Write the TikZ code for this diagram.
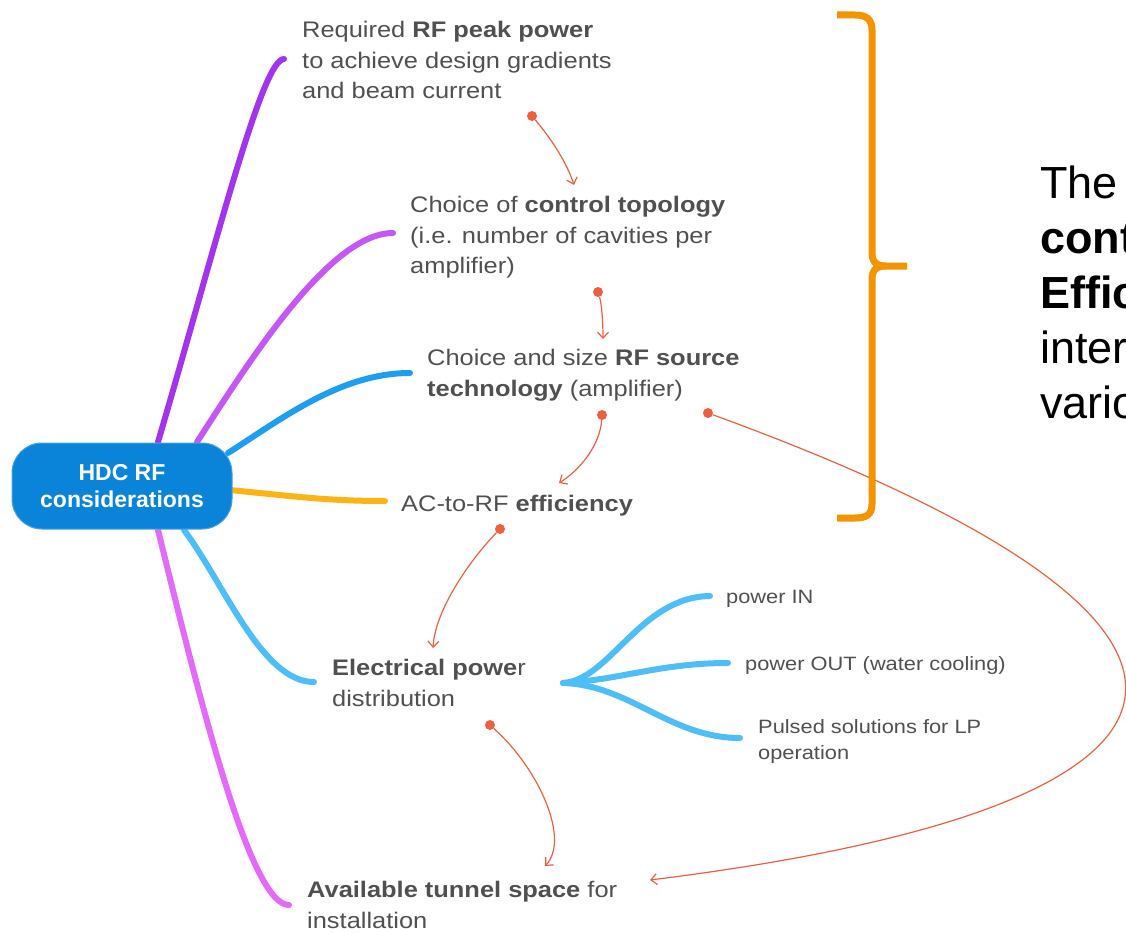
\documentclass[tikz,border=0pt]{standalone}
\usepackage{fontspec}
\setmainfont{Liberation Sans}
\newfontfamily\mapfont[FakeStretch=1.13]{Liberation Sans}
\usetikzlibrary{arrows.meta}

\definecolor{hubblue}{HTML}{0A84D9}
\definecolor{txtgray}{HTML}{505050}
\definecolor{brPurple}{HTML}{A334EE}
\definecolor{brViolet}{HTML}{C657F7}
\definecolor{brBlue}{HTML}{1E9EF2}
\definecolor{brAmber}{HTML}{FBB315}
\definecolor{brSky}{HTML}{4EBEF9}
\definecolor{brPink}{HTML}{E46AF8}
\definecolor{linkred}{HTML}{EE5F3F}
\definecolor{braceorange}{HTML}{F39400}

\begin{document}
\begin{tikzpicture}[x=1pt,y=-1pt,
  branch/.style={line width=6pt, line cap=round},
  link/.style={draw=linkred, line width=1.2pt, -{Straight Barb[length=6pt,width=11pt]}},
  dot/.style={circle, fill=linkred, inner sep=0pt, minimum size=10pt},
  lbl/.style={anchor=north west, inner sep=0pt, align=left, text=txtgray,
    font=\mapfont\fontsize{22.5}{30.5}\selectfont},
  sublbl/.style={anchor=north west, inner sep=0pt, align=left, text=txtgray,
    font=\mapfont\fontsize{19.3}{26}\selectfont},
  hub/.style={fill=hubblue, draw=hubblue!75!white, line width=1pt, rounded corners=30pt,
    minimum width=220pt, minimum height=86pt, text=white, align=center,
    font=\bfseries\fontsize{23}{27}\selectfont},
  note/.style={anchor=north west, inner sep=0pt, align=left, text=black,
    font=\fontsize{45}{54.8}\selectfont},
  brace/.style={draw=braceorange, line width=7pt, line join=round}
]
\useasboundingbox (0,0) rectangle (1126,933);
\clip (0,0) rectangle (1126,933);

% branch anchor points on the central box and at the labels
\coordinate (h1) at (158,442);
\coordinate (h2) at (197,442);
\coordinate (h3) at (228,453);
\coordinate (h4) at (230,490);
\coordinate (h5) at (184,530);
\coordinate (h6) at (158,530);
\coordinate (e1) at (284,59);
\coordinate (e2) at (393,233);
\coordinate (e3) at (410,373);
\coordinate (e4) at (385,501);
\coordinate (e5) at (314,682);
\coordinate (e6) at (289,905);

% main branches
\draw[branch, brPurple] (h1) .. controls (216,245) and (262,59) .. (e1);
\draw[branch, brViolet] (h2) .. controls (250,360) and (330,233) .. (e2);
\draw[branch, brBlue]   (h3) .. controls (280,420) and (340,373) .. (e3);
\draw[branch, brAmber]  (h4) .. controls (300,497) and (330,501) .. (e4);
\draw[branch, brSky]    (h5) .. controls (225,585) and (262,682) .. (e5);
\draw[branch, brPink]   (h6) .. controls (200,700) and (250,905) .. (e6);

% central topic
\node[hub] (hub) at (122,486) {HDC RF\\considerations};

% topic labels
\node[lbl] (req) at (302,21) {Required \textbf{RF peak power}\\to achieve design gradients\\and beam current};
\node[lbl] (topo) at (410,196) {Choice of \textbf{control topology}\\(i.e. number of cavities per\\amplifier)};
\node[lbl] (src) at (427,349) {Choice and size \textbf{RF source}\\\textbf{technology} (amplifier)};
\node[lbl] (eff) at (401,495) {AC-to-RF \textbf{efficiency}};
\node[lbl] (elec) at (332,659) {\textbf{Electrical powe}r\\distribution};
\node[lbl] (tun) at (307,881) {\textbf{Available tunnel space} for\\installation};

% electrical power sub-branches
\coordinate (fork) at (563,683);
\coordinate (s1) at (710,596);
\coordinate (s2) at (728,663);
\coordinate (s3) at (740,738);
\draw[branch, brSky] (fork) .. controls (610,680) and (640,597) .. (s1);
\draw[branch, brSky] (fork) .. controls (620,680) and (660,663) .. (s2);
\draw[branch, brSky] (fork) .. controls (630,685) and (670,738) .. (s3);
\node[sublbl] (pin) at (726,590) {power IN};
\node[sublbl] (pout) at (745,656) {power OUT (water cooling)};
\node[sublbl] (puls) at (758,719) {Pulsed solutions for LP\\operation};

% dependency links
\node[dot] (d1) at (532,116) {};
\node[dot] (d2) at (598,292) {};
\node[dot] (d3) at (602,415) {};
\node[dot] (d4) at (500,529) {};
\node[dot] (d5) at (490,725) {};
\node[dot] (d6) at (708,413) {};
\coordinate (t1) at (574,185);
\coordinate (t2) at (603,339);
\coordinate (t3) at (559,483);
\coordinate (t4) at (433,648);
\coordinate (t5) at (545,866);
\coordinate (t6) at (650,880);
\draw[link] (d1) .. controls (548,135) and (566,160) .. (t1);
\draw[link] (d2) .. controls (602,305) and (603,325) .. (t2);
\draw[link] (d3) .. controls (600,445) and (580,470) .. (t3);
\draw[link] (d4) .. controls (470,560) and (435,610) .. (t4);
\draw[link] (d5) .. controls (540,770) and (570,840) .. (t5);
\draw[link] (d6) .. controls (1290,625) and (1255,805) .. (t6);

% curly brace
\draw[brace] (837,15) -- (855,15) .. controls (866,15) and (872,19) .. (872,30)
  -- (872,252) .. controls (872,262) and (876,266) .. (886,266) -- (907,266);
\draw[brace] (886,266) .. controls (876,266) and (872,270) .. (872,280)
  -- (872,504) .. controls (872,515) and (866,518) .. (855,518) -- (837,518);

% side note
\node[note] (nt) at (1040,166) {The\\\textbf{cont}\\\textbf{Effic}\\inter\\vario};
\end{tikzpicture}
\end{document}
